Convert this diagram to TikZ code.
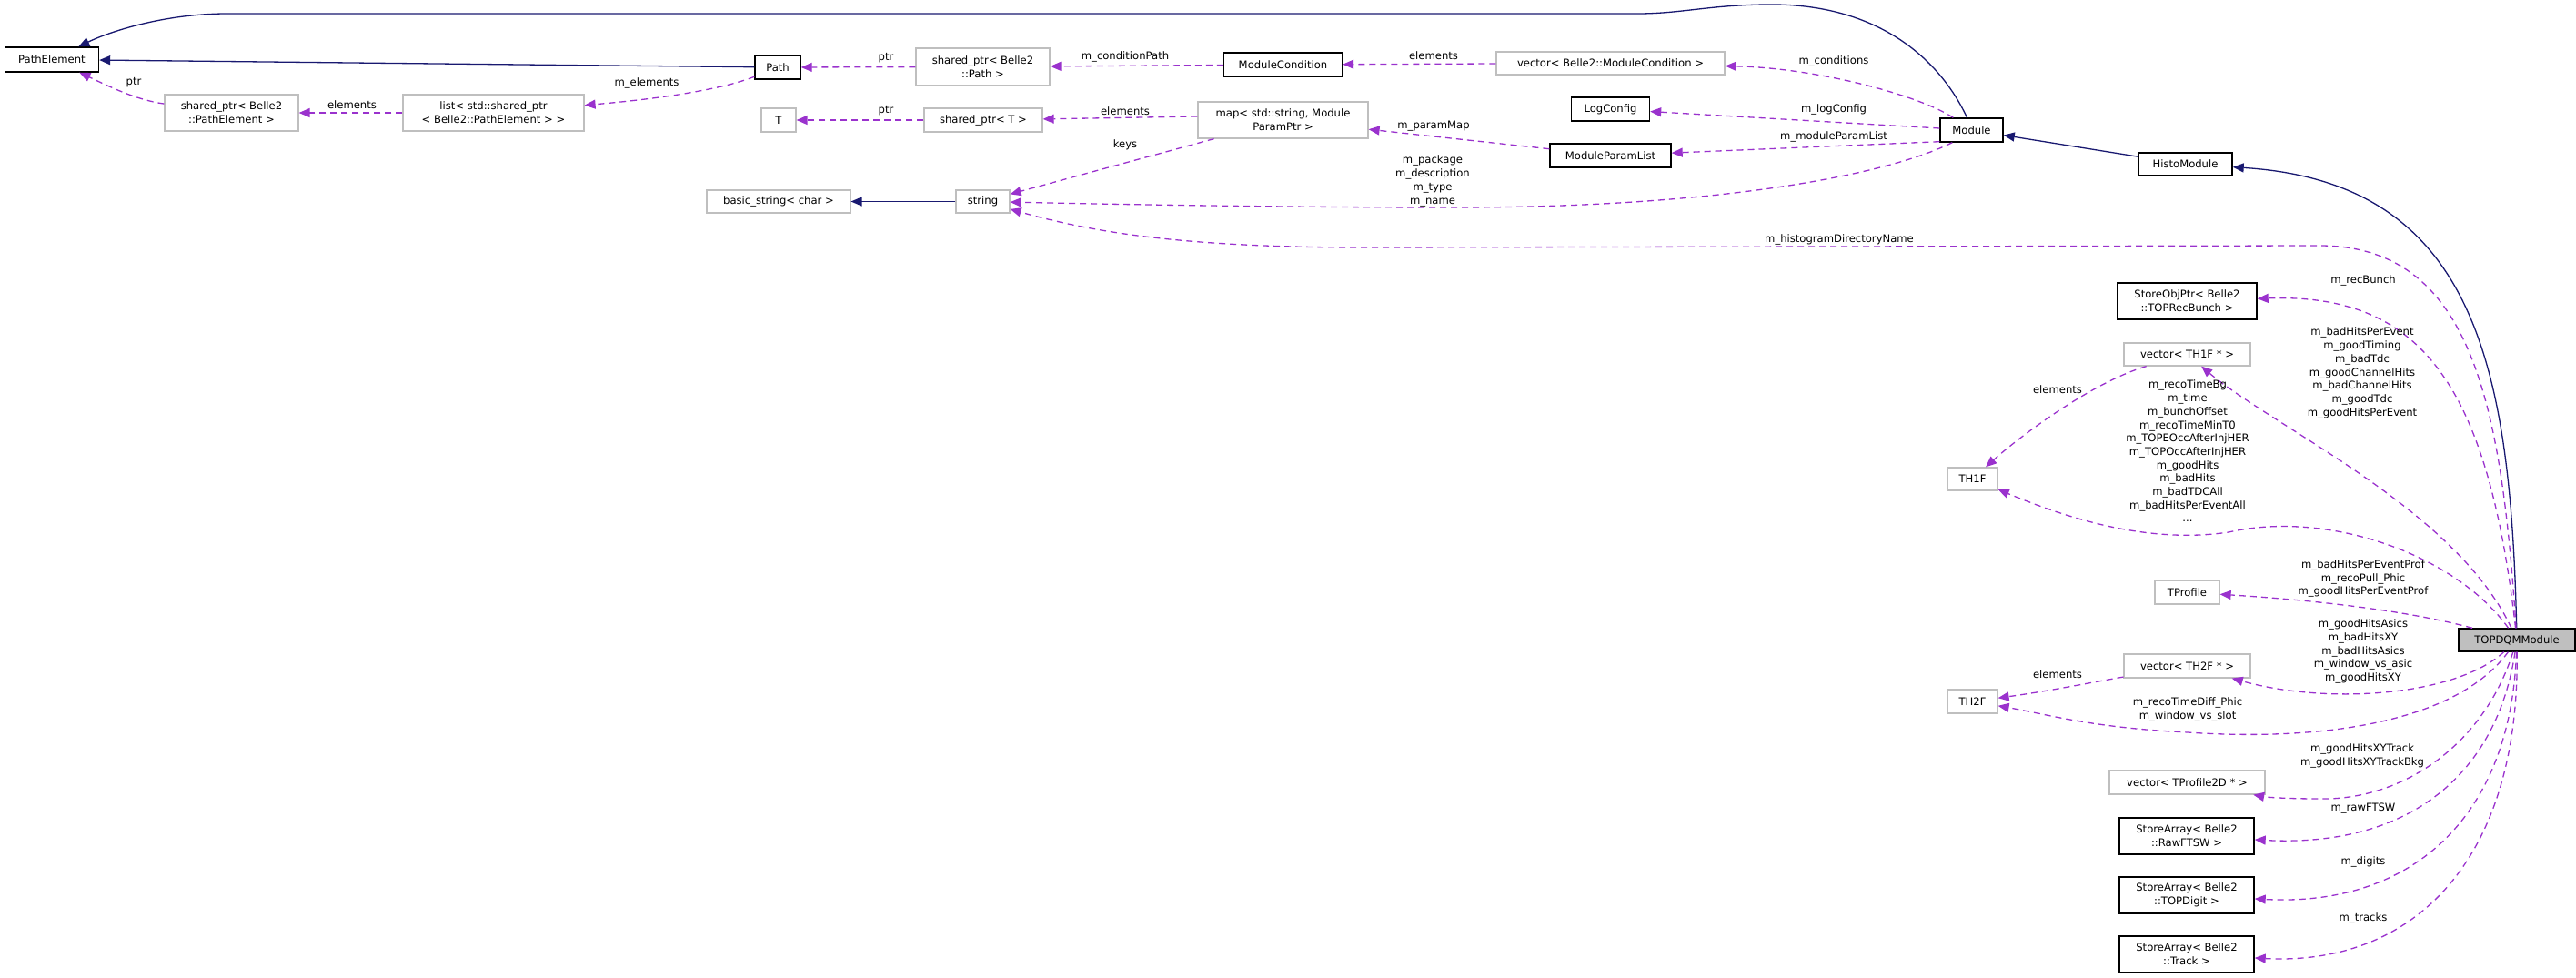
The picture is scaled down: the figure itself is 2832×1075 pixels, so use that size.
\documentclass[tikz,border=0pt]{standalone}
\usepackage{fontspec}
\setmainfont{DejaVu Sans}
\usetikzlibrary{arrows.meta,calc}
\definecolor{mblue}{HTML}{191970}
\definecolor{purp}{HTML}{9A32CD}
\definecolor{gbord}{HTML}{BFBFBF}
\begin{document}
\begin{tikzpicture}[x=1pt,y=-1pt,
 every node/.style={font=\fontsize{11.6}{14.7}\selectfont},
 bbox/.style={draw=black,line width=1.4pt,fill=white,inner sep=0pt,align=center},
 gbox/.style={draw=gbord,line width=1.2pt,fill=white,inner sep=0pt,align=center},
 inh/.style={draw=mblue,line width=1.3pt,-{Triangle[length=12pt,width=10pt]}},
 use/.style={draw=purp,line width=1.3pt,dash pattern=on 7pt off 5pt,-{Triangle[length=12pt,width=10pt]}},
 lab/.style={align=center,inner sep=0pt}]
\useasboundingbox (0,0) rectangle (2832,1075);
% nodes
\node[bbox,minimum width=103,minimum height=27] (pathel) at (57,65.5) {PathElement};
\node[bbox,minimum width=50,minimum height=26] (path) at (855,74) {Path};
\node[gbox,minimum width=147,minimum height=41] (sptrpath) at (1080.5,73.5) {shared\_ptr< Belle2\\::Path >};
\node[bbox,minimum width=130,minimum height=26] (modcond) at (1410.5,71) {ModuleCondition};
\node[gbox,minimum width=251,minimum height=25] (vmc) at (1770.5,69.5) {vector< Belle2::ModuleCondition >};
\node[gbox,minimum width=147,minimum height=40] (sptrpe) at (254.5,124) {shared\_ptr< Belle2\\::PathElement >};
\node[gbox,minimum width=199,minimum height=40] (list) at (542.5,124) {list< std::shared\_ptr\\< Belle2::PathElement > >};
\node[gbox,minimum width=38,minimum height=26] (tt) at (856,132) {T};
\node[gbox,minimum width=130,minimum height=26] (sptrt) at (1081,132) {shared\_ptr< T >};
\node[gbox,minimum width=187,minimum height=40] (map) at (1410.5,132) {map< std::string, Module\\ParamPtr >};
\node[bbox,minimum width=86,minimum height=26] (logcfg) at (1770.5,120) {LogConfig};
\node[bbox,minimum width=133,minimum height=26] (mpl) at (1770.5,171) {ModuleParamList};
\node[gbox,minimum width=158,minimum height=25] (bstring) at (856,221.5) {basic\_string< char >};
\node[gbox,minimum width=59,minimum height=25] (string) at (1080.5,221.5) {string};
\node[bbox,minimum width=69,minimum height=26] (module) at (2167.5,143) {Module};
\node[bbox,minimum width=103,minimum height=25] (histo) at (2402.5,180.5) {HistoModule};
\node[bbox,minimum width=153,minimum height=40] (sop) at (2404.5,331) {StoreObjPtr< Belle2\\::TOPRecBunch >};
\node[gbox,minimum width=139,minimum height=25] (vth1f) at (2404.5,389.5) {vector< TH1F * >};
\node[gbox,minimum width=55,minimum height=25] (th1f) at (2168.5,526.5) {TH1F};
\node[gbox,minimum width=71,minimum height=26] (tprof) at (2404.5,651) {TProfile};
\node[bbox,fill=gbord,minimum width=128,minimum height=25] (tdqm) at (2767,703.5) {TOPDQMModule};
\node[gbox,minimum width=139,minimum height=26] (vth2f) at (2404.5,732) {vector< TH2F * >};
\node[gbox,minimum width=55,minimum height=26] (th2f) at (2168.5,771) {TH2F};
\node[gbox,minimum width=171,minimum height=26] (vtp2d) at (2404.5,860) {vector< TProfile2D * >};
\node[bbox,minimum width=148,minimum height=40] (raw) at (2404,919) {StoreArray< Belle2\\::RawFTSW >};
\node[bbox,minimum width=148,minimum height=40] (digit) at (2404,984) {StoreArray< Belle2\\::TOPDigit >};
\node[bbox,minimum width=148,minimum height=40] (track) at (2404,1049) {StoreArray< Belle2\\::Track >};
% inheritance
\draw[inh] ($(module.north)+(-5,0)$) .. controls (2130,60) and (2060,5) .. (1948,5) .. controls (1880,5) and (1850,15) .. (1800,15) -- (250,15) .. controls (180,15) and (120,35) .. (pathel);
\draw[inh] (path) -- (pathel);
\draw[inh] (string) -- (bstring);
\draw[inh] (histo) -- (module);
\draw[inh] (tdqm) .. controls (2760,400) and (2720,200) .. (histo);
% usage
\draw[use] (sptrpe) .. controls (150,110) and (120,95) .. (pathel);
\draw[use] (list) -- (sptrpe);
\draw[use] (path) .. controls (790,100) and (710,110) .. (list);
\draw[use] (sptrpath) -- (path);
\draw[use] (modcond) -- (sptrpath);
\draw[use] (vmc) -- (modcond);
\draw[use] ($(module.north west)+(15,0)$) .. controls (2110,105) and (2000,75) .. (vmc);
\draw[use] (sptrt) -- (tt);
\draw[use] ($(map.west)+(0,-4)$) -- (sptrt);
\draw[use] (map) -- (string);
\draw[use] (mpl) -- (map);
\draw[use] ($(module.west)+(0,-2)$) -- (logcfg);
\draw[use] ($(module.south west)+(0,-1)$) -- (mpl);
\draw[use] ($(module.south west)+(14,0)$) .. controls (2080,190) and (1900,228) .. (1600,228) .. controls (1400,228) and (1200,224) .. (string);
\draw[use] (tdqm) .. controls (2750,450) and (2720,270) .. (2550,270) -- (1500,272) .. controls (1300,272) and (1200,255) .. (string);
\draw[use] (tdqm) .. controls (2735,420) and (2660,322) .. (sop);
\draw[use] (tdqm) .. controls (2700,560) and (2500,470) .. (vth1f);
\draw[use] (vth1f) .. controls (2300,420) and (2220,480) .. (th1f);
\draw[use] (tdqm) .. controls (2700,610) and (2560,560) .. (2450,585) .. controls (2350,600) and (2250,560) .. (th1f);
\draw[use] (tdqm) .. controls (2650,672) and (2550,660) .. (tprof);
\draw[use] (vth2f) .. controls (2300,750) and (2250,760) .. (th2f);
\draw[use] (tdqm) .. controls (2700,765) and (2560,775) .. (vth2f);
\draw[use] (tdqm) .. controls (2700,795) and (2550,815) .. (2405,805) .. controls (2300,800) and (2250,785) .. (th2f);
\draw[use] (tdqm) .. controls (2730,820) and (2640,880) .. (2550,878) .. controls (2510,878) and (2490,876) .. (vtp2d);
\draw[use] (tdqm) .. controls (2745,850) and (2650,932) .. (raw);
\draw[use] (tdqm) .. controls (2760,900) and (2650,997) .. (digit);
\draw[use] (tdqm) .. controls (2770,950) and (2650,1062) .. (track);
% labels
\node[lab] (l1) at (147,91) {ptr};
\node[lab] (l2) at (387,115) {elements};
\node[lab] (l3) at (711,91) {m\_elements};
\node[lab] (l4) at (974,64) {ptr};
\node[lab] (l5) at (974,122) {ptr};
\node[lab] (l6) at (1237,62) {m\_conditionPath};
\node[lab] (l7) at (1576,61) {elements};
\node[lab] (l8) at (2016,67) {m\_conditions};
\node[lab] (l9) at (1237,122) {elements};
\node[lab] (l10) at (1576,139) {m\_paramMap};
\node[lab] (l11) at (1237,159) {keys};
\node[lab] (l12) at (2016,120) {m\_logConfig};
\node[lab] (l13) at (2016,150) {m\_moduleParamList};
\node[lab] (l14) at (1575,199) {m\_package\\m\_description\\m\_type\\m\_name};
\node[lab] (l15) at (2022,263) {m\_histogramDirectoryName};
\node[lab] (l16) at (2598,308) {m\_recBunch};
\node[lab] (l17) at (2597,410) {m\_badHitsPerEvent\\m\_goodTiming\\m\_badTdc\\m\_goodChannelHits\\m\_badChannelHits\\m\_goodTdc\\m\_goodHitsPerEvent};
\node[lab] (l18) at (2405,496) {m\_recoTimeBg\\m\_time\\m\_bunchOffset\\m\_recoTimeMinT0\\m\_TOPEOccAfterInjHER\\m\_TOPOccAfterInjHER\\m\_goodHits\\m\_badHits\\m\_badTDCAll\\m\_badHitsPerEventAll\\...};
\node[lab] (l19) at (2262,428) {elements};
\node[lab] (l20) at (2598,636) {m\_badHitsPerEventProf\\m\_recoPull\_Phic\\m\_goodHitsPerEventProf};
\node[lab] (l21) at (2598,716) {m\_goodHitsAsics\\m\_badHitsXY\\m\_badHitsAsics\\m\_window\_vs\_asic\\m\_goodHitsXY};
\node[lab] (l22) at (2262,741) {elements};
\node[lab] (l23) at (2405,780) {m\_recoTimeDiff\_Phic\\m\_window\_vs\_slot};
\node[lab] (l24) at (2597,831) {m\_goodHitsXYTrack\\m\_goodHitsXYTrackBkg};
\node[lab] (l25) at (2598,889) {m\_rawFTSW};
\node[lab] (l26) at (2598,947) {m\_digits};
\node[lab] (l27) at (2598,1009) {m\_tracks};
\end{tikzpicture}
\end{document}
